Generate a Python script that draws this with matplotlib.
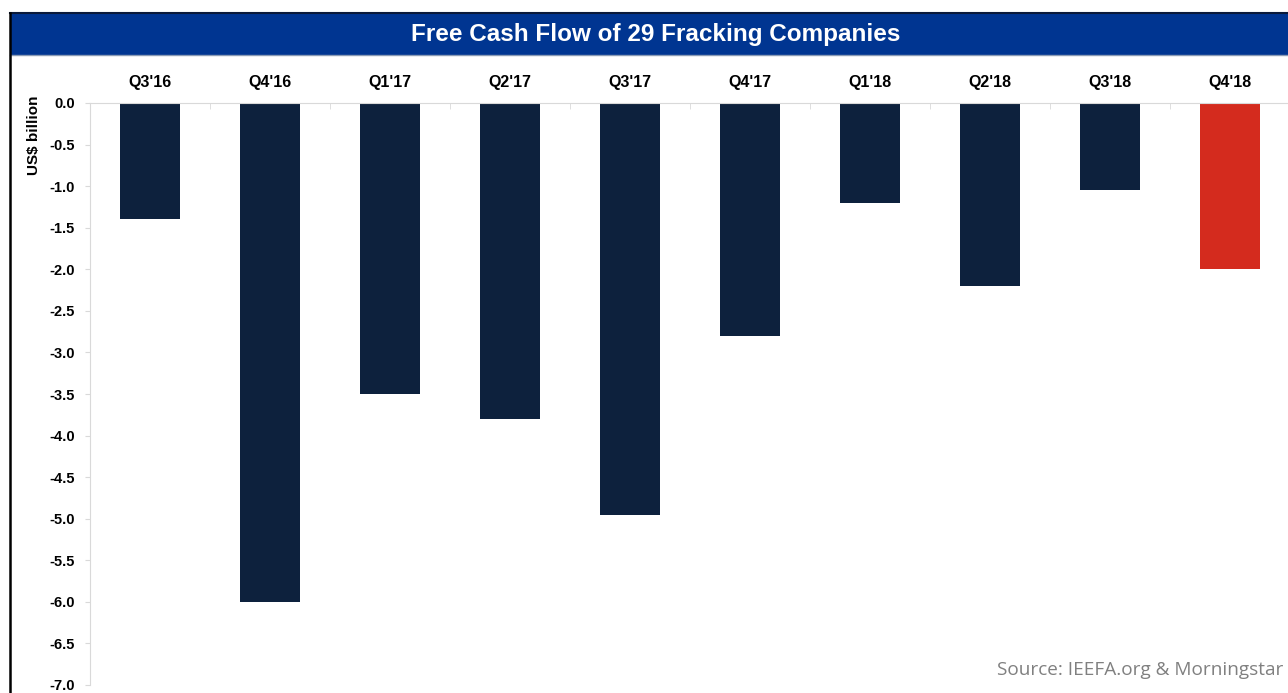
import numpy as np
import matplotlib.pyplot as plt
from matplotlib.patches import Rectangle
from matplotlib.lines import Line2D

quarters = ["Q3'16", "Q4'16", "Q1'17", "Q2'17", "Q3'17", "Q4'17", "Q1'18", "Q2'18", "Q3'18", "Q4'18"]
fcf = [-1.4, -6.0, -3.5, -3.8, -4.95, -2.8, -1.2, -2.2, -1.05, -2.0]
bar_colors = ['#0d213d'] * 9 + ['#d42b1e']

W, H = 1288, 693
fig = plt.figure(figsize=(W / 100, H / 100), dpi=100)
plt.rcParams['font.family'] = ['Liberation Sans', 'DejaVu Sans']

# title banner
fig.patches.append(Rectangle((10 / W, 1 - 55 / H), (W - 10) / W, 42 / H,
                             transform=fig.transFigure, facecolor='#003591',
                             edgecolor='none', zorder=0))
fig.lines.append(Line2D([10 / W, 1], [1 - 13 / H, 1 - 13 / H], transform=fig.transFigure,
                        color='#0a1a3a', lw=1.5))
fig.lines.append(Line2D([10 / W, 1], [1 - 55 / H, 1 - 55 / H], transform=fig.transFigure,
                        color='#8a9bb5', lw=1))
fig.lines.append(Line2D([10 / W, 10 / W], [0, 1 - 13 / H], transform=fig.transFigure,
                        color='black', lw=1.8))
fig.text(656 / W, 1 - 34 / H, 'Free Cash Flow of 29 Fracking Companies', color='white',
         fontsize=17.5, fontweight='bold', ha='center', va='center')

ax = fig.add_axes([90 / W, 8 / H, 1200 / W, 582 / H])
x = np.arange(len(quarters))
ax.bar(x, fcf, width=0.5, color=bar_colors)
ax.set_xlim(-0.5, len(quarters) - 0.5)
ax.set_ylim(-7.0, 0.0)
ax.set_yticks(np.arange(-7.0, 0.01, 0.5))
ax.set_yticklabels([f'{v:.1f}' for v in np.arange(-7.0, 0.01, 0.5)])
ax.xaxis.tick_top()
ax.set_xticks(x)
ax.set_xticklabels(quarters)
ax.set_xticks(np.arange(-0.5, len(quarters), 1), minor=True)
ax.tick_params(axis='x', which='major', length=0, pad=9, labelsize=11.5)
ax.tick_params(axis='x', which='minor', length=4, color='#d9d9d9', direction='in')
ax.tick_params(axis='y', length=3.5, color='#d9d9d9', pad=7.5, labelsize=10.5)
for lab in ax.get_xticklabels() + ax.get_yticklabels():
    lab.set_fontweight('bold')
for s in ['right', 'bottom']:
    ax.spines[s].set_visible(False)
ax.spines['left'].set_color('#d9d9d9')
ax.spines['top'].set_color('#d9d9d9')
ax.set_ylabel('US$ billion', fontsize=11, fontweight='bold')
ax.yaxis.set_label_coords(-49 / 1200, 1 - 32 / 582)

fig.text(1283 / W, 1 - 670 / H, 'Source: IEEFA.org & Morningstar', color='#808080',
         fontsize=13.7, ha='right', va='center', family=['Open Sans', 'DejaVu Sans'])

fig.savefig('out.png', dpi=100)
